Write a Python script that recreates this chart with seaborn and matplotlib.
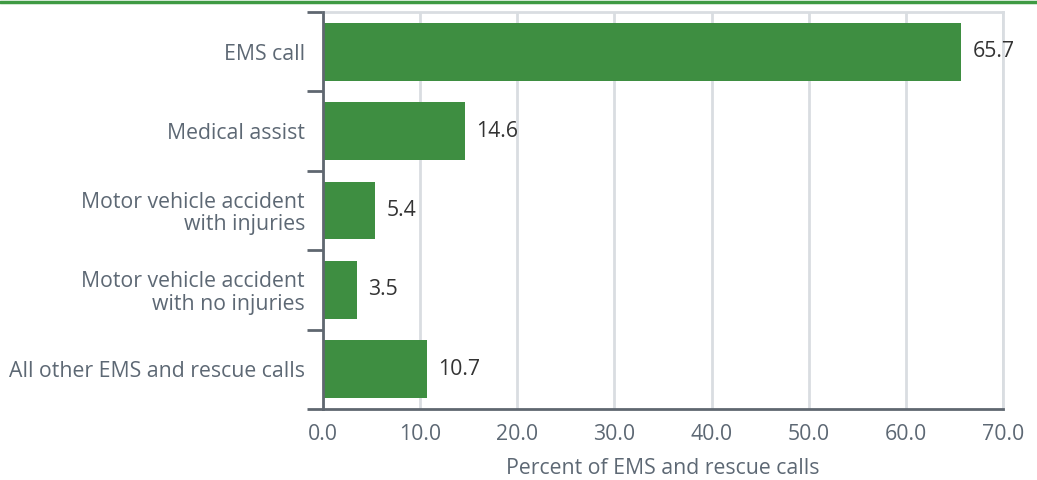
#!/usr/bin/env python3
import seaborn as sns
import pandas as pd
import matplotlib.pyplot as plt
from matplotlib.ticker import FixedLocator, MultipleLocator, FormatStrFormatter

categories = [
    "EMS call",
    "Medical assist",
    "Motor vehicle accident\nwith injuries",
    "Motor vehicle accident\nwith no injuries",
    "All other EMS and rescue calls",
]
percents = [65.7, 14.6, 5.4, 3.5, 10.7]

bar_green = "#3e8e41"
text_gray = "#5d6874"
spine_gray = "#5f6770"
grid_gray = "#d9dde1"
fs = 15.3

sns.set_theme(style="white")
plt.rcParams["font.family"] = ["Open Sans", "DejaVu Sans"]

df = pd.DataFrame({"category": categories, "percent": percents})

fig = plt.figure(figsize=(10.37, 4.8), dpi=100)
ax = fig.add_axes([323 / 1037, 1 - 409 / 480, 680 / 1037, 397 / 480])

sns.barplot(data=df, x="percent", y="category", color=bar_green,
            saturation=1, width=0.73, linewidth=0, ax=ax, zorder=3)

ax.set_xlim(0, 70)
ax.set_ylim(4.5, -0.5)
ax.xaxis.set_major_locator(MultipleLocator(10))
ax.xaxis.set_major_formatter(FormatStrFormatter("%.1f"))
ax.grid(axis="x", color=grid_gray, linewidth=2, zorder=0)
ax.set_axisbelow(True)

# ticks between categories on the y axis
ax.yaxis.set_minor_locator(FixedLocator([i - 0.5 for i in range(len(categories) + 1)]))
ax.tick_params(axis="y", which="minor", length=11.5, width=2, color=spine_gray, left=True)
ax.tick_params(axis="y", which="major", length=0, pad=13, labelsize=fs, labelcolor=text_gray)
ax.tick_params(axis="x", which="major", length=0, pad=11, labelsize=fs, labelcolor=text_gray)
for lbl in ax.get_yticklabels():
    lbl.set_linespacing(1.08)

for side in ["left", "bottom"]:
    ax.spines[side].set_color(spine_gray)
    ax.spines[side].set_linewidth(2)
for side in ["top", "right"]:
    ax.spines[side].set_color(grid_gray)
    ax.spines[side].set_linewidth(2)
ax.spines["left"].set_zorder(5)
ax.spines["bottom"].set_zorder(5)

ax.bar_label(ax.containers[0], fmt="%.1f", padding=8, fontsize=fs, color="#333333")

ax.set_ylabel("")
ax.set_xlabel("Percent of EMS and rescue calls", fontsize=fs, color=text_gray, labelpad=9)

# green rule at the top of the figure
fig.add_artist(plt.Line2D([0, 1], [1 - 1.5 / 480] * 2, color="#3f9a43",
                          linewidth=2.5, transform=fig.transFigure))

plt.savefig("out.png", dpi=100)
